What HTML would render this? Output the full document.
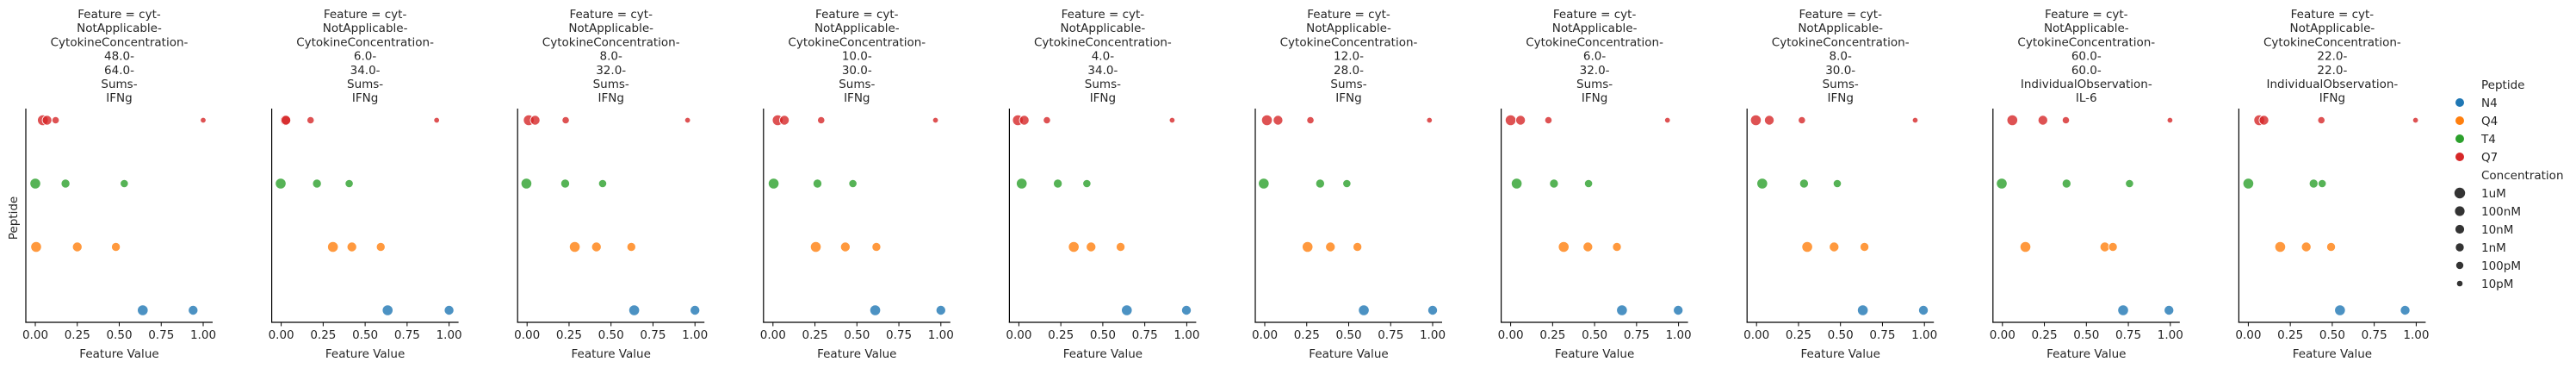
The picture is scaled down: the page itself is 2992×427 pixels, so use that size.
<!DOCTYPE html>
<html><head><meta charset="utf-8">
<style>
html,body{margin:0;padding:0;background:#fff;}
svg{display:block;font-family:"DejaVu Sans","Liberation Sans",sans-serif;}
</style></head>
<body>
<svg id="chart" width="2992" height="427" viewBox="0 0 2992 427" xmlns="http://www.w3.org/2000/svg"></svg>
<script>
const peptides = ["N4","Q4","T4","Q7"];
const concs = ["1uM","100nM","10nM","1nM","100pM","10pM"];
const titles = [
 ["48.0-","64.0-","Sums-","IFNg"],
 ["6.0-","34.0-","Sums-","IFNg"],
 ["8.0-","32.0-","Sums-","IFNg"],
 ["10.0-","30.0-","Sums-","IFNg"],
 ["4.0-","34.0-","Sums-","IFNg"],
 ["12.0-","28.0-","Sums-","IFNg"],
 ["6.0-","32.0-","Sums-","IFNg"],
 ["8.0-","30.0-","Sums-","IFNg"],
 ["60.0-","60.0-","IndividualObservation-","IL-6"],
 ["22.0-","22.0-","IndividualObservation-","IFNg"]
];
const xTicks = [0,0.25,0.5,0.75,1.0];
const xTickLabels = ["0.00","0.25","0.50","0.75","1.00"];
// per panel values: N4, Q4, T4, Q7
const n4Values = [[0.64,0.94],[0.634,1.0],[0.638,1.0],[0.609,1.0],[0.643,0.998],[0.59,1.0],[0.663,0.998],[0.633,0.994],[0.719,0.992],[0.546,0.934]];
const q4Values = [[0.005,0.25,0.48],[0.308,0.421,0.593],[0.284,0.413,0.621],[0.255,0.431,0.616],[0.327,0.43,0.606],[0.255,0.391,0.552],[0.316,0.46,0.633],[0.302,0.462,0.643],[0.137,0.61,0.658],[0.19,0.345,0.493]];
const t4Values = [[0.0,0.18,0.53],[-0.003,0.213,0.405],[-0.004,0.227,0.45],[0.004,0.265,0.476],[0.017,0.232,0.405],[-0.006,0.33,0.489],[0.036,0.258,0.464],[0.034,0.283,0.481],[-0.004,0.382,0.757],[0.0,0.389,0.44]];
const q7Values = [[0.045,0.07,0.121,1.0],[0.026,0.028,0.175,0.926],[0.01,0.048,0.23,0.956],[0.028,0.068,0.287,0.968],[-0.006,0.032,0.167,0.913],[0.013,0.079,0.272,0.981],[0.0,0.059,0.225,0.934],[-0.004,0.076,0.27,0.945],[0.059,0.241,0.378,0.998],[0.065,0.093,0.435,0.996]];
const n4Conc = ["1uM","100nM"];
const q4Conc = ["1uM","100nM","10nM"];
const t4Conc = ["1uM","10nM","1nM"];
const q7Conc = ["1uM","100nM","100pM","10pM"];

const colors = {N4:"#1f77b4",Q4:"#ff7f0e",T4:"#2ca02c",Q7:"#d62728"};
const sizeR = {"1uM":6.2,"100nM":5.6,"10nM":5.1,"1nM":4.7,"100pM":4.2,"10pM":3.3};
const rowY = {Q7:139.5,T4:213,Q4:286.5,N4:360};
const NS="http://www.w3.org/2000/svg";
const svg=document.getElementById("chart");
function el(t,a,p){const e=document.createElementNS(NS,t);for(const k in a)e.setAttribute(k,a[k]);(p||svg).appendChild(e);return e;}
const pitch=285.6, base0=41, scale=195;
function xPos(i,v){return base0+i*pitch+v*scale;}

for(let i=0;i<10;i++){
  const g=el("g",{});
  
  
  const x0=xPos(i,0), left=x0-11, right=x0+206, cx=(left+right)/2;
  const lines=["Feature = cyt-","NotApplicable-","CytokineConcentration-"].concat(titles[i]);
  const tt=el("text",{x:cx,y:0,"font-size":"13.5","text-anchor":"middle",fill:"#262626"},g);
  
  
  lines.forEach((l,k)=>{const ts=el("tspan",{x:cx,y:21+k*16.2},tt);ts.textContent=l;});
  const ya=el("line",{x1:left,y1:126,x2:left,y2:374.5,stroke:"#000","stroke-width":1.2},g);
  
  
  const xa=el("line",{x1:left-0.6,y1:374,x2:right,y2:374,stroke:"#000","stroke-width":1.2},g);
  
  
  xTicks.forEach((t,k)=>{
    const x=xPos(i,t);
    el("line",{x1:x,y1:374,x2:x,y2:378.5,stroke:"#000","stroke-width":1},g);
    const lb=el("text",{x:x,y:393,"font-size":"13.5","text-anchor":"middle",fill:"#262626"},g);
    
    
    lb.textContent=xTickLabels[k];
  });
  const xl=el("text",{x:cx,y:415,"font-size":"13.5","text-anchor":"middle",fill:"#262626"},g);
  
  
  xl.textContent="Feature Value";
  const series=[["N4",n4Values[i],n4Conc],["Q4",q4Values[i],q4Conc],["T4",t4Values[i],t4Conc],["Q7",q7Values[i],q7Conc]];
  series.forEach(([p,vals,cs])=>{
    vals.forEach((v,k)=>{
      const c=el("circle",{cx:xPos(i,v),cy:rowY[p],r:sizeR[cs[k]],fill:colors[p],"fill-opacity":0.8,stroke:"#fff","stroke-width":0.8},g);
      
      
    });
  });
}
const yl=el("text",{x:0,y:0,"font-size":"13.5","text-anchor":"middle",fill:"#262626",transform:"translate(20,253) rotate(-90)"});


yl.textContent="Peptide";

const lg=el("g",{});


function ltext(t,x,y){const e=el("text",{x:x,y:y+5,"font-size":"13.5",fill:"#262626"},lg);e.textContent=t;return e;}
const h1=ltext("Peptide",2882,98);


peptides.forEach((p,k)=>{
  const y=119+k*21;
  const c=el("circle",{cx:2857,cy:y,r:5,fill:colors[p]},lg);
  
  
  const t=ltext(p,2882,y);
  
  
});
const h2=ltext("Concentration",2882,203);


concs.forEach((cname,k)=>{
  const y=224+k*21;
  const c=el("circle",{cx:2857,cy:y,r:sizeR[cname],fill:"#333"},lg);
  
  
  const t=ltext(cname,2882,y);
  
  
});
</script>
</body></html>
